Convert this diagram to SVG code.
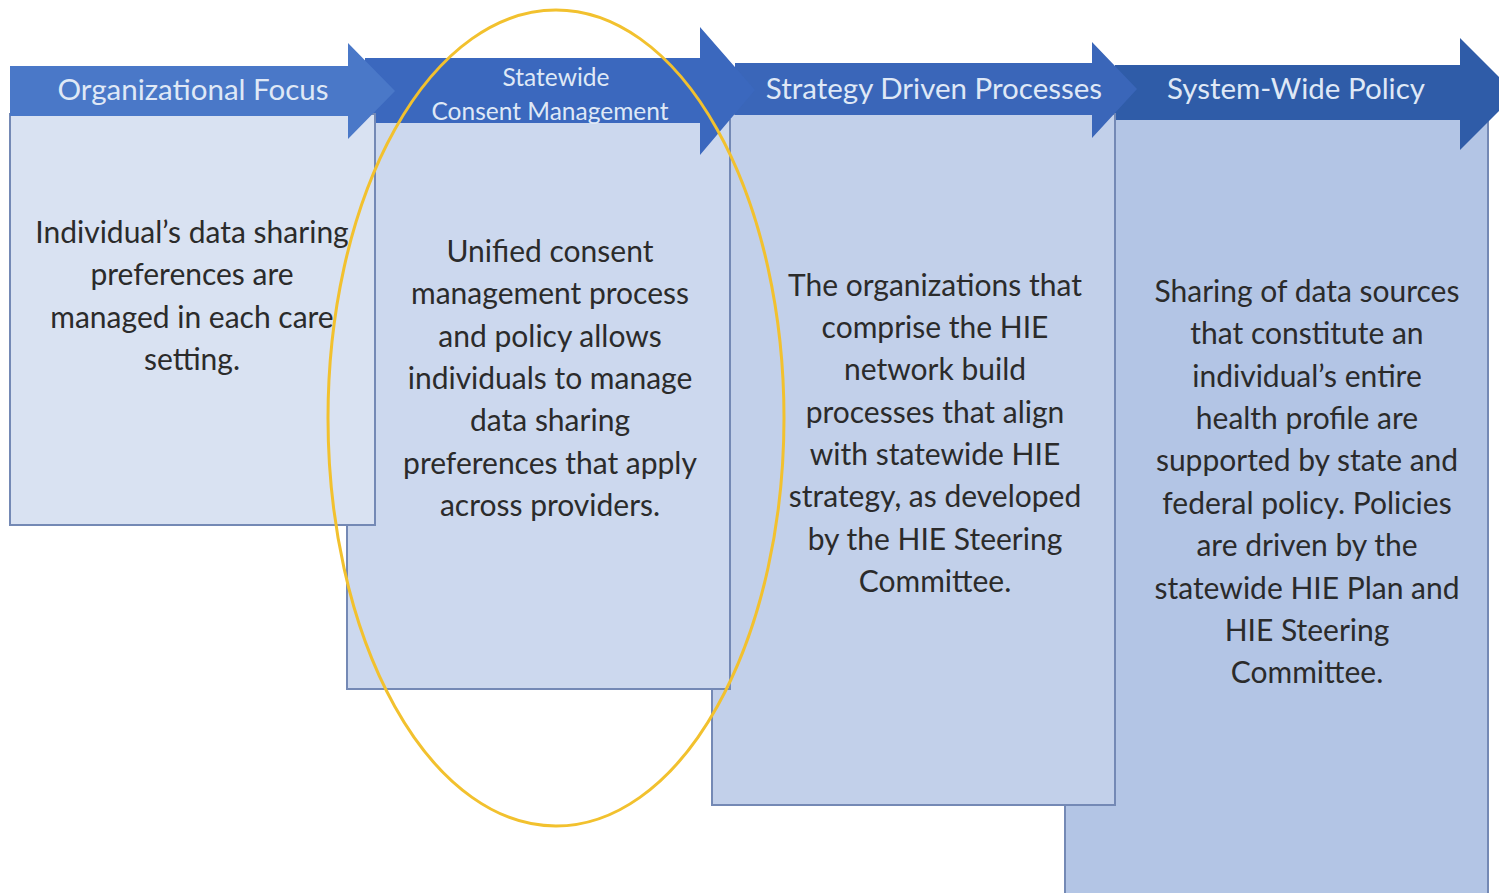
<svg xmlns="http://www.w3.org/2000/svg" width="1499" height="893" viewBox="0 0 1499 893">
<style>
.box{stroke:#7489b5;stroke-width:2}
.hdr{font-family:Lato,"Open Sans","Liberation Sans",sans-serif;font-size:29.5px;fill:#dfe8f6;text-anchor:middle}
.hdr2{font-family:Lato,"Open Sans","Liberation Sans",sans-serif;font-size:24.5px;fill:#dfe8f6;text-anchor:middle}
.body{font-family:Lato,"Open Sans","Liberation Sans",sans-serif;font-size:30px;fill:#2b2b2b;text-anchor:middle}
</style>
<rect width="1499" height="893" fill="#ffffff"/>
<g id="col4">
<rect class="box" x="1065" y="118" width="423" height="790" fill="#b3c5e5"/>
<polygon points="1115,65 1460,65 1460,38 1516,94 1460,150 1460,120 1115,120" fill="#2f5ca8"/>
<text class="hdr" x="1296" y="99">System-Wide Policy</text>
<text class="body"><tspan x="1307" y="302">Sharing of data sources</tspan><tspan x="1307" y="344">that constitute an</tspan><tspan x="1307" y="387">individual’s entire</tspan><tspan x="1307" y="429">health profile are</tspan><tspan x="1307" y="471">supported by state and</tspan><tspan x="1307" y="514">federal policy. Policies</tspan><tspan x="1307" y="556">are driven by the</tspan><tspan x="1307" y="599">statewide HIE Plan and</tspan><tspan x="1307" y="641">HIE Steering</tspan><tspan x="1307" y="683">Committee.</tspan></text>
</g>
<g id="col3">
<rect class="box" x="712" y="114" width="403" height="691" fill="#c2d0ea"/>
<polygon points="735,63 1092,63 1092,42 1137,89 1092,138 1092,115 735,115" fill="#3a66b9"/>
<text class="hdr" x="934" y="99">Strategy Driven Processes</text>
<text class="body"><tspan x="935" y="296">The organizations that</tspan><tspan x="935" y="338">comprise the HIE</tspan><tspan x="935" y="380">network build</tspan><tspan x="935" y="423">processes that align</tspan><tspan x="935" y="465">with statewide HIE</tspan><tspan x="935" y="507">strategy, as developed</tspan><tspan x="935" y="550">by the HIE Steering</tspan><tspan x="935" y="592">Committee.</tspan></text>
</g>
<g id="col2">
<rect class="box" x="347" y="120" width="383" height="569" fill="#ccd8ee"/>
<polygon points="365,58 700,58 700,27 755,90 700,155 700,123 365,123" fill="#3b68be"/>
<text class="hdr2" x="556" y="86">Statewide</text>
<text class="hdr2" x="550" y="120">Consent Management</text>
<text class="body"><tspan x="550" y="262">Unified consent</tspan><tspan x="550" y="304">management process</tspan><tspan x="550" y="347">and policy allows</tspan><tspan x="550" y="389">individuals to manage</tspan><tspan x="550" y="431">data sharing</tspan><tspan x="550" y="474">preferences that apply</tspan><tspan x="550" y="516">across providers.</tspan></text>
</g>
<g id="col1">
<rect class="box" x="10" y="114" width="365" height="411" fill="#d9e2f2"/>
<polygon points="10,66 348,66 348,43 395,91 348,139 348,116 10,116" fill="#4a78c8"/>
<text class="hdr" x="193" y="100">Organizational Focus</text>
<text class="body"><tspan x="192" y="243">Individual’s data sharing</tspan><tspan x="192" y="285">preferences are</tspan><tspan x="192" y="328">managed in each care</tspan><tspan x="192" y="370">setting.</tspan></text>
</g>
<g id="connectors">
<ellipse id="highlight" cx="556" cy="418" rx="228" ry="408" fill="none" stroke="#f2c12e" stroke-width="3"/>
</g>
</svg>
